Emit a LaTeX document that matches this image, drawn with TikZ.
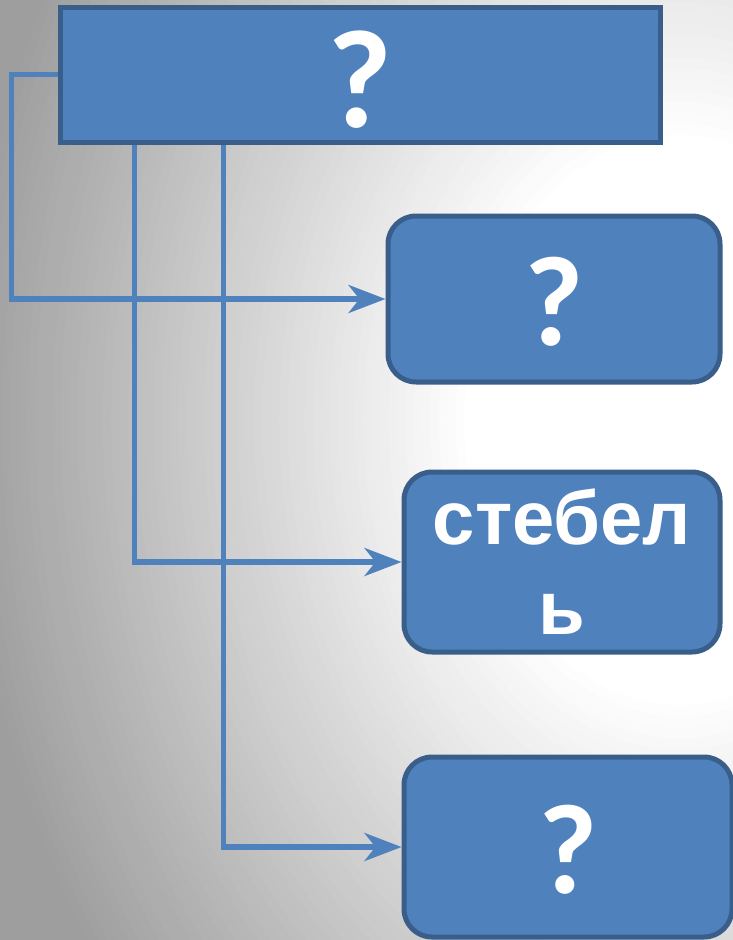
\documentclass[tikz,border=0pt]{standalone}
\usepackage{fontspec}
\setmainfont{Carlito}
\newfontfamily\arialb{Liberation Sans}
\usetikzlibrary{arrows.meta}
\definecolor{boxfill}{RGB}{79,129,189}
\definecolor{boxdraw}{RGB}{58,94,138}
\definecolor{bgedge}{RGB}{158,158,158}
\begin{document}
\begin{tikzpicture}[x=1pt,y=-1pt,
  box/.style={draw=boxdraw, fill=boxfill, line width=5pt, text=white, inner sep=0pt, align=center},
  qmark/.style={font={\bfseries\fontsize{128}{128}\selectfont}, text height=92pt, text depth=0pt},
  conn/.style={draw=boxfill, line width=5.5pt, -{Stealth[length=37pt,width=28pt,inset=11pt]}}
  ]
\fill[bgedge] (0,0) rectangle (733,940);
\begin{scope}
\clip (0,0) rectangle (733,940);
\foreach \i in {0,...,60}{
  \pgfmathsetmacro\f{1-\i*0.7/60}
  \pgfmathtruncatemacro\w{100*\i/60}
  \fill[white!\w!bgedge] (680,420) ellipse [x radius=\f*720pt, y radius=\f*950pt];
}
\end{scope}
\useasboundingbox (0,0) rectangle (733,940);

\node[box, minimum width=600pt, minimum height=135pt, font={\bfseries\fontsize{140}{140}\selectfont}, text height=106pt, text depth=0pt] (top) at (360,74.5) {?};
\node[box, qmark, rounded corners=28pt, minimum width=332pt, minimum height=166pt] (b1) at (554,299) {?};
\node[box, rounded corners=28pt, minimum width=316pt, minimum height=180pt, font={\arialb\bfseries\fontsize{76}{90}\selectfont}] (b2) at (562,562) {стебел\\ь};
\node[box, qmark, rounded corners=28pt, minimum width=328pt, minimum height=180pt] (b3) at (568,847) {?};

\coordinate (t1) at ([xshift=77pt]top.south west);
\coordinate (t2) at ([xshift=166pt]top.south west);
\draw[conn] (top.west) -- ++(-46,0) |- (b1.west);
\draw[conn] (t1) |- (b2.west);
\draw[conn] (t2) |- (b3.west);
\end{tikzpicture}
\end{document}
